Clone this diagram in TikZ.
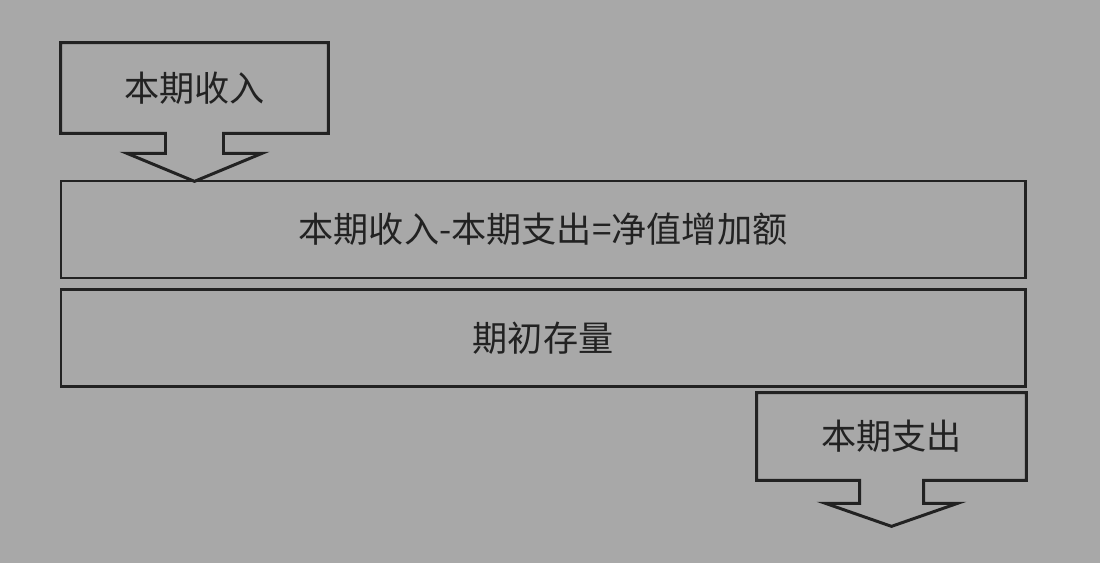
\documentclass[tikz,border=0pt]{standalone}
\usepackage{fontspec}
\newfontfamily\cjk{Noto Sans CJK SC}
\usepackage{xcolor}
\usepackage{tikz}
\usetikzlibrary{positioning}

\definecolor{paper}{RGB}{168,168,168}
\definecolor{ink}{RGB}{34,34,34}

\begin{document}
\begin{tikzpicture}[
  bar/.style={
    rectangle,
    draw=ink,
    line width=1.7pt,
    minimum width=19.28cm,
    minimum height=1.94cm,
    text=ink,
    font=\cjk\fontsize{20}{24}\selectfont
  },
  flow/.style={
    rectangle,
    text=ink,
    font=\cjk\fontsize{20}{24}\selectfont
  },
  outline/.style={
    draw=ink,
    line width=1.7pt,
    line join=miter
  }
]

% --- BACKGROUND ---
\fill[paper] (0,0) rectangle (22,-11.26);
\useasboundingbox (0,0) rectangle (22,-11.26);

% --- INCOME (Top Left) ---
\node[flow, minimum width=5.34cm, minimum height=1.8cm] (income) at (3.89,-1.76) {本期收入};

\draw[outline] ([xshift=0.58cm]income.south) -- (income.south east) -- (income.north east)
    -- (income.north west) -- (income.south west) -- ([xshift=-0.58cm]income.south)
    -- ++(0,-0.4) -- ++(-0.77,0) -- ++(1.35,-0.56) -- ++(1.35,0.56) -- ++(-0.77,0) -- cycle;

% --- STOCK BARS (Center) ---
\node[bar] (netgain) at (10.86,-4.59) {本期收入-本期支出=净值增加额};
\node[bar, below=0.18cm of netgain] (opening) {期初存量};

% --- EXPENSE (Bottom Right) ---
\node[flow, minimum width=5.38cm, minimum height=1.74cm] (expense) at (17.83,-8.73) {本期支出};

\draw[outline] ([xshift=0.64cm]expense.south) -- (expense.south east) -- (expense.north east)
    -- (expense.north west) -- (expense.south west) -- ([xshift=-0.64cm]expense.south)
    -- ++(0,-0.46) -- ++(-0.68,0) -- ++(1.32,-0.46) -- ++(1.32,0.46) -- ++(-0.68,0) -- cycle;

\end{tikzpicture}
\end{document}
